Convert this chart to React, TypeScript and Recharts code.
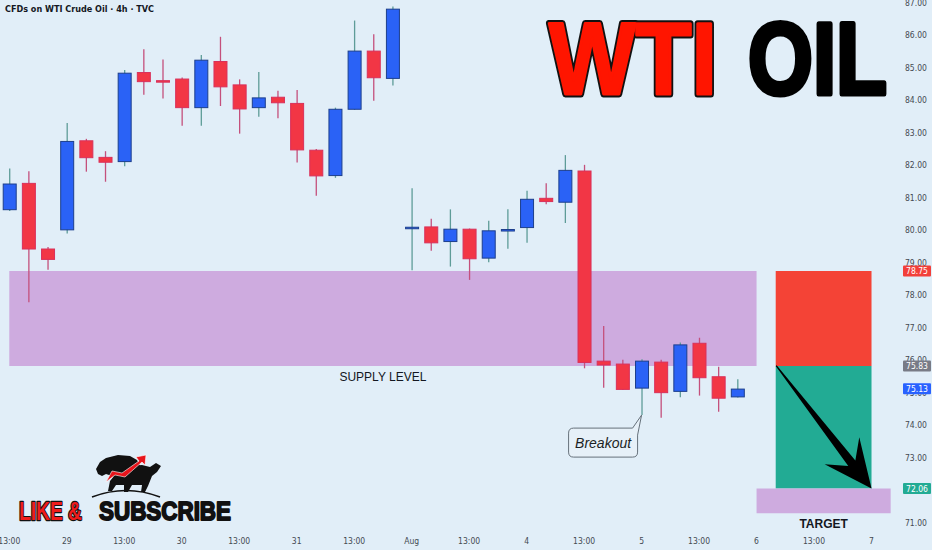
import React from "react";
import {
  ComposedChart,
  Bar,
  XAxis,
  YAxis,
  ReferenceArea,
  ReferenceLine,
  ReferenceDot,
} from "recharts";

// 4h candles
const opens = [
  80.64, 81.45, 79.43, 80.02, 82.76, 82.25, 82.12, 84.86, 84.61, 84.66,
  83.78, 85.2, 84.48, 83.78, 84.1, 83.91, 82.47, 81.69, 83.73, 85.52,
  84.68, 80.1, 80.11, 79.66, 80.04, 79.15, 79.99, 80.09, 80.99, 80.87,
  81.83, 75.98, 75.89, 75.15, 75.95, 75.05, 76.53, 75.5, 74.88,
];
const highs = [
  81.91, 81.82, 79.49, 83.31, 82.82, 82.44, 84.94, 85.58, 85.26, 84.71,
  85.4, 85.96, 84.65, 84.88, 84.3, 84.32, 82.51, 83.78, 86.46, 86.04,
  86.89, 81.3, 80.36, 80.65, 80.06, 80.3, 80.65, 81.22, 81.45, 82.32,
  82.02, 77.06, 76.02, 76.04, 76.02, 76.55, 76.7, 75.81, 75.42,
];
const lows = [
  80.6, 77.79, 78.79, 79.91, 81.81, 81.5, 81.98, 84.18, 84.06, 83.22,
  83.22, 83.83, 82.98, 83.5, 83.45, 82.09, 81.07, 81.62, 83.71, 83.99,
  84.46, 78.78, 79.38, 78.89, 78.48, 79.02, 79.44, 79.62, 80.81, 80.23,
  75.76, 75.16, 75.09, 74.32, 74.24, 74.87, 74.92, 74.42, 74.86,
];
const closes = [
  81.43, 79.43, 79.11, 82.74, 82.24, 82.1, 84.84, 84.58, 84.59, 83.78,
  85.24, 84.42, 83.74, 84.08, 83.93, 82.48, 81.68, 83.73, 85.52, 84.7,
  86.81, 80.1, 79.62, 80.04, 79.13, 79.99, 80.03, 80.96, 80.89, 81.85,
  75.94, 75.86, 75.11, 75.98, 75.01, 76.48, 75.47, 74.84, 75.12,
];

const timeTickIdx = [0, 3, 6, 9, 12, 15, 18, 21, 24, 27, 30, 33, 36, 39, 42, 45];
const timeTickLabels = [
  "13:00", "29", "13:00", "30", "13:00", "31", "13:00", "Aug",
  "13:00", "4", "13:00", "5", "13:00", "6", "13:00", "7",
];
const priceTicks = [71, 72, 73, 74, 75, 76, 77, 78, 79, 80, 81, 82, 83, 84, 85, 86, 87];

// zones and levels
const supplyTop = 78.75;
const supplyBottom = 75.83;
const targetPrice = 72.06;
const targetBottom = 71.3;

// price tags on the right scale (drawn after the plain ticks so they sit on top)
const tagPrices = [78.75, 75.83, 75.13, 72.06];
const tagColors = ["#F23F3A", "#787B86", "#2962FF", "#22AB94"];

const BG = "#E1EEF8";
const AXIS_FONT = "'Liberation Sans Narrow', 'DejaVu Sans Condensed', 'Liberation Sans', sans-serif";
const HEAVY_FONT = "'Liberation Sans', Arial, sans-serif";

const data = opens.map((o, i) => ({
  i,
  o,
  h: highs[i],
  l: lows[i],
  c: closes[i],
  range: [lows[i], highs[i]],
}));

function Candle(props: any) {
  const { x, y, width, height, payload } = props;
  const { o, h, l, c } = payload;
  const top = Math.min(y, y + height);
  const span = Math.abs(height);
  const per = span / (h - l);
  const yOf = (p: number) => top + (h - p) * per;
  const up = c >= o;
  const cx = x + width / 2;
  const bTop = yOf(Math.max(o, c));
  const bBot = yOf(Math.min(o, c));
  const bh = Math.max(bBot - bTop, 1.5);
  return (
    <g>
      <line
        x1={cx}
        x2={cx}
        y1={top}
        y2={top + span}
        stroke={up ? "#5E9C98" : "#C4507C"}
        strokeWidth={1.3}
      />
      <rect
        x={x + 0.5}
        y={bTop}
        width={width - 1}
        height={bh}
        fill={up ? "#2A62F6" : "#F23645"}
        stroke={up ? "#1D3F8C" : "#D9305A"}
        strokeWidth={1}
      />
    </g>
  );
}

function PriceTick(props: any) {
  const { x, y, payload } = props;
  const v = payload.value as number;
  const k = tagPrices.indexOf(v);
  if (k >= 0) {
    return (
      <g>
        <rect x={x - 2} y={y - 5.5} width={28} height={11} rx={1} fill={tagColors[k]} />
        <text
          x={x + 12}
          y={y + 3}
          textAnchor="middle"
          fontSize={8.5}
          fontFamily={AXIS_FONT}
          fill="#ffffff"
        >
          {v.toFixed(2)}
        </text>
      </g>
    );
  }
  return (
    <text x={x} y={y + 3} textAnchor="start" fontSize={8.5} fontFamily={AXIS_FONT} fill="#444a52">
      {v.toFixed(2)}
    </text>
  );
}

const zoneLabel = (text: string, dy: number, size: number, weight: number) => (props: any) => {
  const vb = props.viewBox;
  return (
    <text
      x={vb.x + vb.width / 2}
      y={vb.y + vb.height + dy}
      textAnchor="middle"
      fontSize={size}
      fontWeight={weight}
      fontFamily="'Liberation Sans', sans-serif"
      fill="#131722"
    >
      {text}
    </text>
  );
};

function Arrow(props: any) {
  const { x1, y1, x2, y2 } = props;
  const dx = x2 - x1;
  const dy = y2 - y1;
  const len = Math.sqrt(dx * dx + dy * dy);
  const ux = dx / len;
  const uy = dy / len;
  const nx = -uy;
  const ny = ux;
  const at = (d: number, w: number) => `${x2 - ux * d + nx * w},${y2 - uy * d + ny * w}`;
  const pts = [
    `${x1},${y1}`,
    at(32, 4.5),
    at(48, 22),
    `${x2},${y2}`,
    at(48, -22),
    at(32, -4.5),
    `${x1 - nx * 1.2},${y1 - ny * 1.2}`,
  ].join(" ");
  return <polygon points={pts} fill="#000000" />;
}

function Callout(props: any) {
  const { cx, cy } = props;
  const left = cx - 73;
  const right = cx - 4;
  const top = cy + 13;
  const bottom = cy + 42;
  const r = 5;
  const d = [
    `M ${left + r} ${top}`,
    `L ${cx - 9} ${top}`,
    `L ${cx} ${cy}`,
    `L ${right} ${top + 7}`,
    `L ${right} ${bottom - r}`,
    `Q ${right} ${bottom} ${right - r} ${bottom}`,
    `L ${left + r} ${bottom}`,
    `Q ${left} ${bottom} ${left} ${bottom - r}`,
    `L ${left} ${top + r}`,
    `Q ${left} ${top} ${left + r} ${top}`,
    "Z",
  ].join(" ");
  return (
    <g>
      <path d={d} fill="#E6F0F8" stroke="#66717B" strokeWidth={1} />
      <text
        x={(left + right) / 2}
        y={top + 20}
        textAnchor="middle"
        fontSize={14}
        fontStyle="italic"
        fontFamily="'Liberation Sans', sans-serif"
        fill="#1B1F24"
      >
        Breakout
      </text>
    </g>
  );
}

function Decorations() {
  return (
    <svg
      width={932}
      height={550}
      style={{ position: "absolute", left: 0, top: 0, pointerEvents: "none" }}
    >
      {/* big headline: black outline, then thickened red */}
      <text
        x={549}
        y={94}
        fontSize={102}
        fontWeight={700}
        fontFamily={HEAVY_FONT}
        textLength={168}
        lengthAdjust="spacingAndGlyphs"
        fill="#111"
        stroke="#111"
        strokeWidth={7}
        strokeLinejoin="round"
      >
        WTI
      </text>
      <text
        x={549}
        y={94}
        fontSize={102}
        fontWeight={700}
        fontFamily={HEAVY_FONT}
        textLength={168}
        lengthAdjust="spacingAndGlyphs"
        fill="#FF1500"
        stroke="#FF1500"
        strokeWidth={3}
        strokeLinejoin="round"
      >
        WTI
      </text>
      <text
        x={748}
        y={94}
        fontSize={102}
        fontWeight={700}
        fontFamily={HEAVY_FONT}
        textLength={139}
        lengthAdjust="spacingAndGlyphs"
        fill="#000"
        stroke="#000"
        strokeWidth={5}
        strokeLinejoin="round"
      >
        OIL
      </text>

      {/* logo */}
      <path
        d="M96 469 L100 462 L106 458 L118 455 L130 456 L137 460 L140 466 L136 471 L130 478 L124 482 L118 478 L112 476 L106 474 L102 476 L98 474 Z"
        fill="#111"
      />
      <path
        d="M110 481 L118 471 L130 466 L142 465 L150 467 L156 463 L161 466 L157 472 L152 476 L148 486 L145 492 L141 492 L142 485 L132 485 L128 492 L124 492 L124 485 L116 485 L112 491 L108 491 Z"
        fill="#111"
      />
      <path
        d="M106 482 L112 471 L122 473 L139 461 L136 457 L146 455 L145 465 L142 462 L125 477 L115 475 Z"
        fill="#E8141B"
        stroke="#fff"
        strokeWidth={0.6}
      />
      <path d="M92 497 Q126 484 160 497" fill="none" stroke="#111" strokeWidth={1.6} />

      {/* like & subscribe */}
      <text
        x={19}
        y={520}
        fontSize={26}
        fontWeight={700}
        fontFamily={HEAVY_FONT}
        textLength={63}
        lengthAdjust="spacingAndGlyphs"
        fill="#EE1C1C"
        stroke="#111"
        strokeWidth={2.4}
        strokeLinejoin="round"
        paintOrder="stroke"
      >
        LIKE &amp;
      </text>
      <text
        x={99}
        y={520}
        fontSize={26}
        fontWeight={700}
        fontFamily={HEAVY_FONT}
        textLength={132}
        lengthAdjust="spacingAndGlyphs"
        fill="#111"
        stroke="#111"
        strokeWidth={1.8}
        strokeLinejoin="round"
      >
        SUBSCRIBE
      </text>
    </svg>
  );
}

export default function App() {
  return (
    <div
      style={{
        position: "absolute",
        left: 0,
        top: 0,
        width: 932,
        height: 550,
        background: BG,
        overflow: "hidden",
      }}
    >
      <style>{"body{margin:0}"}</style>
      <ComposedChart
        width={932}
        height={550}
        data={data}
        margin={{ top: 0, right: 0, left: 0, bottom: 0 }}
      >
        <XAxis
          type="number"
          dataKey="i"
          domain={[-0.485, 46.33]}
          allowDataOverflow
          ticks={timeTickIdx}
          interval={0}
          tickFormatter={(v: number) => timeTickLabels[timeTickIdx.indexOf(v)] ?? ""}
          axisLine={false}
          tickLine={false}
          tickMargin={0}
          height={18}
          tick={{ fontSize: 8.5, fill: "#444a52", fontFamily: AXIS_FONT }}
        />
        <YAxis
          orientation="right"
          type="number"
          domain={[70.723, 87.092]}
          allowDataOverflow
          ticks={[...priceTicks, ...tagPrices]}
          interval={0}
          axisLine={false}
          tickLine={false}
          width={35}
          tick={PriceTick}
        />

        <ReferenceArea
          x1={0}
          x2={39}
          y1={supplyBottom}
          y2={supplyTop}
          fill="#CEABDF"
          fillOpacity={1}
          stroke="none"
          label={zoneLabel("SUPPLY LEVEL", 15, 12, 400)}
        />
        <ReferenceArea
          x1={40}
          x2={45}
          y1={supplyBottom}
          y2={supplyTop}
          fill="#F44336"
          fillOpacity={1}
          stroke="none"
        />
        <ReferenceArea
          x1={40}
          x2={45}
          y1={targetPrice}
          y2={supplyBottom}
          fill="#22AB94"
          fillOpacity={1}
          stroke="none"
        />
        <ReferenceArea
          x1={39}
          x2={46}
          y1={targetBottom}
          y2={targetPrice}
          fill="#CEABDF"
          fillOpacity={1}
          stroke="none"
          label={zoneLabel("TARGET", 15, 12, 700)}
        />

        <Bar dataKey="range" barSize={14} shape={Candle} isAnimationActive={false} />

        <ReferenceLine
          segment={[
            { x: 40, y: supplyBottom },
            { x: 45, y: targetPrice },
          ]}
          shape={Arrow}
        />
        <ReferenceDot x={33} y={lows[33]} shape={Callout} />
      </ComposedChart>
      <Decorations />
      <div
        style={{
          position: "absolute",
          left: 5,
          top: 4,
          fontSize: 9,
          fontWeight: 600,
          color: "#131722",
          fontFamily: AXIS_FONT,
          whiteSpace: "nowrap",
        }}
      >
        CFDs on WTI Crude Oil · 4h · TVC
      </div>
    </div>
  );
}
